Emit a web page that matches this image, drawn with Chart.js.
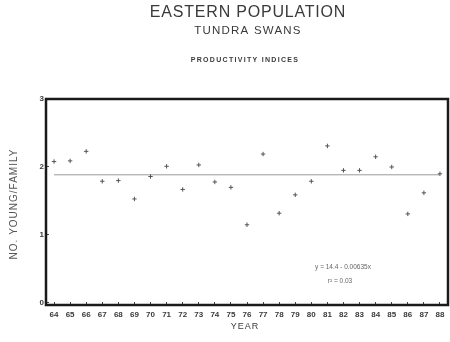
<!DOCTYPE html>
<html>
<head>
<meta charset="utf-8">
<script src="https://cdn.jsdelivr.net/npm/chart.js@4"></script>
<style>
  html, body { margin: 0; padding: 0; background: #fff; }
  #wrap { width: 450px; height: 342px; }
</style>
</head>
<body>
<div id="wrap"><canvas id="chart" width="450" height="342"></canvas></div>
<script>
// years (19xx) and productivity index
const years = [64, 65, 66, 67, 68, 69, 70, 71, 72, 73, 74, 75, 76, 77, 78, 79, 80, 81, 82, 83, 84, 85, 86, 87, 88];
const youngPerFamily = [2.08, 2.09, 2.23, 1.79, 1.80, 1.53, 1.86, 2.01, 1.67, 2.03, 1.78, 1.70, 1.15, 2.19, 1.32, 1.59, 1.79, 2.31, 1.95, 1.95, 2.15, 2.00, 1.31, 1.62, 1.90];
const fitYears = [64, 88];
const fitValues = [1.885, 1.885];
const yTicks = [0, 1, 2, 3];

const FONT = "'Liberation Sans', Arial, sans-serif";
const INK = "#3a3a3a";

const decor = {
  id: "decor",
  afterDraw(chart) {
    const ctx = chart.ctx;
    const a = chart.chartArea;
    ctx.save();
    // heavy frame round the plot
    ctx.strokeStyle = "#1a1a1a";
    ctx.lineWidth = 2.5;
    ctx.strokeRect(a.left, a.top, a.right - a.left, a.bottom - a.top);

    ctx.fillStyle = INK;
    ctx.textAlign = "center";
    ctx.textBaseline = "middle";
    ctx.font = "16px " + FONT;
    ctx.letterSpacing = "0.8px";
    ctx.fillText("EASTERN POPULATION", 248, 13);
    ctx.font = "11.5px " + FONT;
    ctx.letterSpacing = "1.2px";
    ctx.fillText("TUNDRA SWANS", 248, 31);
    ctx.font = "bold 7px " + FONT;
    ctx.letterSpacing = "1.3px";
    ctx.fillText("PRODUCTIVITY INDICES", 245, 60);

    ctx.font = "9px " + FONT;
    ctx.letterSpacing = "1px";
    ctx.fillText("YEAR", 245, 327);

    ctx.save();
    ctx.translate(14, 204);
    ctx.rotate(-Math.PI / 2);
    ctx.fillStyle = "#555";
    ctx.font = "10px " + FONT;
    ctx.letterSpacing = "1px";
    ctx.fillText("NO. YOUNG/FAMILY", 0, 0);
    ctx.restore();

    ctx.letterSpacing = "0px";
    ctx.fillStyle = "#666";
    ctx.font = "6.5px " + FONT;
    ctx.fillText("y = 14.4 - 0.00635x", 343, 267);
    ctx.fillText("r² = 0.03", 340, 281);
    ctx.restore();
  }
};

new Chart(document.getElementById("chart"), {
  type: "scatter",
  data: {
    datasets: [
      {
        label: "productivity",
        data: years.map((y, i) => ({ x: y, y: youngPerFamily[i] })),
        pointStyle: "cross",
        pointRadius: 2.2,
        borderColor: "#555",
        borderWidth: 1,
        backgroundColor: "#555"
      },
      {
        type: "line",
        label: "fit",
        data: fitYears.map((y, i) => ({ x: y, y: fitValues[i] })),
        borderColor: "#9a9a9a",
        borderWidth: 1,
        pointRadius: 0
      }
    ]
  },
  plugins: [decor],
  options: {
    responsive: false,
    animation: false,
    layout: { autoPadding: false, padding: { top: 99, right: 2, left: 0, bottom: 0 } },
    plugins: { legend: { display: false }, tooltip: { enabled: false } },
    scales: {
      x: {
        type: "linear",
        min: 63.5,
        max: 88.5,
        afterBuildTicks: s => { s.ticks = years.map(v => ({ value: v })); },
        afterFit: s => { s.height = 37; s.paddingRight = 0; s.paddingLeft = 0; },
        grid: { display: true, drawOnChartArea: false, tickLength: -3, color: "#444" },
        border: { display: false },
        ticks: {
          color: INK,
          font: { family: FONT, size: 8, weight: "bold" },
          padding: 8,
          maxRotation: 0,
          autoSkip: false
        }
      },
      y: {
        min: -0.03,
        max: 3,
        afterBuildTicks: s => { s.ticks = yTicks.map(v => ({ value: v })); },
        afterFit: s => { s.width = 46; s.paddingTop = 0; s.paddingBottom = 0; },
        grid: { display: true, drawOnChartArea: false, tickLength: -3, color: "#444" },
        border: { display: false },
        ticks: {
          color: INK,
          font: { family: FONT, size: 8, weight: "bold" },
          padding: 5
        }
      }
    }
  }
});
</script>
</body>
</html>
